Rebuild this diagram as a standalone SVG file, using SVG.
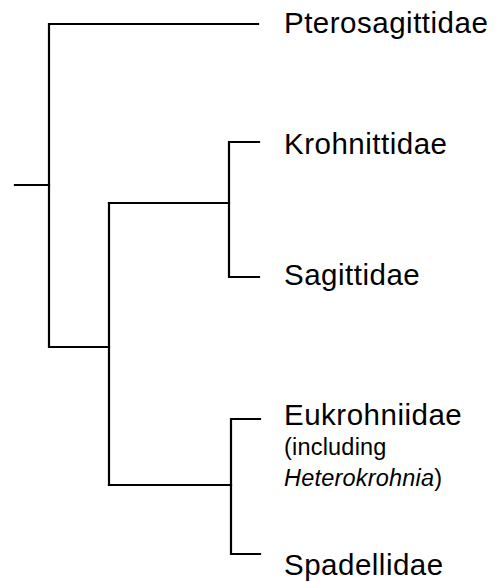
<svg xmlns="http://www.w3.org/2000/svg" width="500" height="582" viewBox="0 0 500 582">
<style>
.br{fill:none;stroke:#000;stroke-width:2.2;stroke-linecap:square;stroke-linejoin:miter}
.lb{font-family:"Liberation Sans",Arial,sans-serif;font-size:29.5px;letter-spacing:0.5px;fill:#000}
.sm{font-family:"Liberation Sans",Arial,sans-serif;font-size:23.5px;letter-spacing:0.2px;fill:#000}
</style>
<rect width="500" height="582" fill="#fff"/>
<g id="connectors">
<path class="br" d="M15,185 H49"/>
<path class="br" d="M258,24 H49 V347 H109"/>
<path class="br" d="M109,203 V485"/>
<path class="br" d="M109,203 H229"/>
<path class="br" d="M259,142 H229 V277 H259"/>
<path class="br" d="M109,485 H231"/>
<path class="br" d="M260,419 H231 V554 H260"/>
</g>
<g id="Pterosagittidae"><text class="lb" x="284" y="33">Pterosagittidae</text></g>
<g id="Krohnittidae"><text class="lb" x="284" y="154">Krohnittidae</text></g>
<g id="Sagittidae"><text class="lb" x="284" y="285">Sagittidae</text></g>
<g id="Eukrohniidae"><text class="lb" x="284" y="425">Eukrohniidae</text>
<text class="sm" x="284" y="455">(including</text>
<text class="sm" x="284" y="486"><tspan font-style="italic">Heterokrohnia</tspan>)</text></g>
<g id="Spadellidae"><text class="lb" x="284" y="575">Spadellidae</text></g>
</svg>
